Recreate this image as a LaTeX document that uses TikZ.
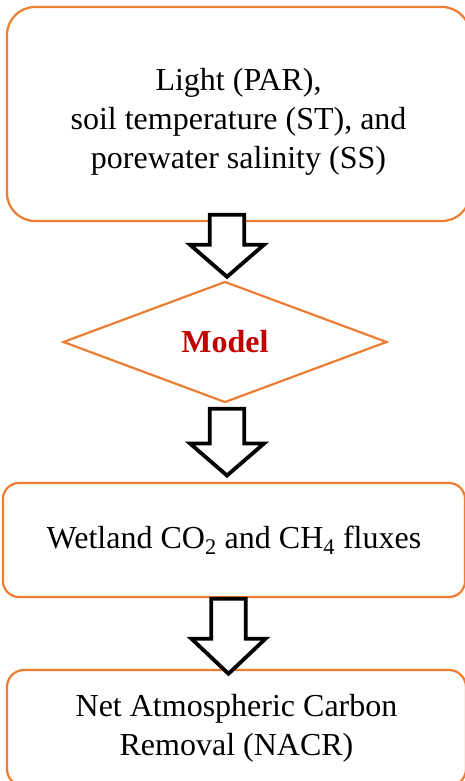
\documentclass[tikz,border=0pt]{standalone}
\usepackage{fontspec}
\setmainfont{Liberation Serif}
\usetikzlibrary{shapes.geometric}
\definecolor{frame}{RGB}{237,125,49}
\definecolor{crimson}{RGB}{192,0,0}
\tikzset{
  box/.style={draw=frame,line width=2.2pt,fill=white,rounded corners=#1,
    align=center,inner sep=0pt,font=\fontsize{32}{39}\selectfont},
  box/.default=16pt,
  decision/.style={diamond,draw=frame,line width=2.2pt,inner sep=0pt,
    minimum width=324pt,minimum height=121pt,aspect=2.68,
    font=\fontsize{32}{39}\selectfont\bfseries,text=crimson},
  % hollow block arrow pointing down: total length, head length
  pics/fatarrow/.style 2 args={code={
    \draw[black,fill=white,line width=3.8pt,miter limit=4]
      (-17.25,0) -- (17.25,0) -- (17.25,#1-#2) -- (37,#1-#2) -- (0,#1)
      -- (-37,#1-#2) -- (-17.25,#1-#2) -- cycle;
  }},
}

\begin{document}
\begin{tikzpicture}[x=1pt,y=-1pt]
  \useasboundingbox (0,0) rectangle (465,781);

  % boxes and the model step
  \node[box=28pt,minimum width=463pt,minimum height=214pt] (inputs) at (238.5,114)
    {\rule{0pt}{38pt}Light (PAR),\\soil temperature (ST), and\\porewater salinity (SS)};
  \node[decision] (model) at (225,342) {Model};
  \node[box=16pt,minimum width=462pt,minimum height=114pt] (fluxes) at (234,540)
    {Wetland CO\textsubscript{2} and CH\textsubscript{4} fluxes};
  \node[box=17pt,minimum width=459pt,minimum height=116pt] (nacr) at (236.5,728)
    {Net Atmospheric Carbon\\Removal (NACR)};

  % block arrows between the steps
  \pic at (227,214.75) {fatarrow={62}{32}};
  \pic at (227,408.75) {fatarrow={66.75}{32}};
  \pic at (228.5,598.75) {fatarrow={75}{35}};
\end{tikzpicture}
\end{document}
